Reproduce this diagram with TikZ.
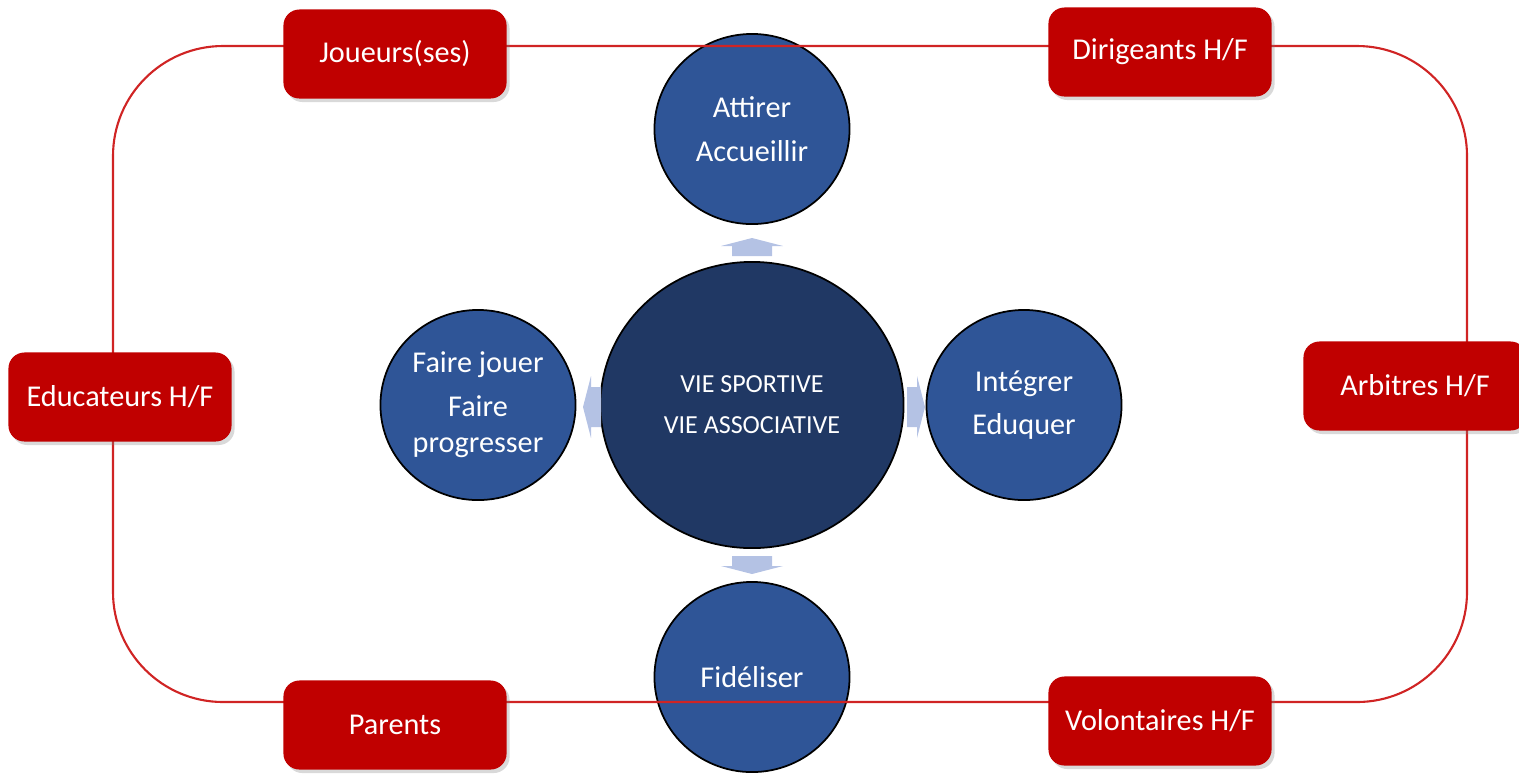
\documentclass[tikz,border=0pt]{standalone}
\usepackage{fontspec}
\setmainfont{Carlito}
\usetikzlibrary{shadows, shapes.geometric}

\definecolor{boxred}{HTML}{C00000}
\definecolor{framered}{HTML}{D02424}
\definecolor{stepblue}{HTML}{2F5597}
\definecolor{coreblue}{HTML}{203864}
\definecolor{flowblue}{HTML}{B4C2E4}

\begin{document}
\begin{tikzpicture}[x=0.01cm, y=-0.01cm,
	rolebox/.style={rectangle, rounded corners=0.16cm, fill=boxred, text=white, minimum width=2.23cm, minimum height=0.89cm, font=\fontsize{8.6}{10}\selectfont, drop shadow={opacity=0.3, shadow xshift=0.03cm, shadow yshift=-0.035cm}},
	stepnode/.style={ellipse, draw=black, line width=0.5pt, fill=stepblue, text=white, inner sep=0pt, minimum width=1.95cm, minimum height=1.9cm, align=center, font=\fontsize{8.6}{12.4}\selectfont},
	corenode/.style={ellipse, draw=black, line width=0.5pt, fill=coreblue, text=white, inner sep=0pt, minimum width=3.03cm, minimum height=2.86cm, align=center, font=\fontsize{7.4}{11.6}\selectfont},
	flow/.style={fill=flowblue}]
		\useasboundingbox (0,0) rectangle (1519,775);
		
		% circles
		\node[corenode]	(core) at (752,405)	{VIE SPORTIVE\\VIE ASSOCIATIVE};
		\node[stepnode]	(attirer) at (752,129)	{Attirer\\Accueillir};
		\node[stepnode]	(faire) at (478,405)	{Faire jouer\\Faire\\[-2pt]progresser};
		\node[stepnode]	(integrer) at (1024,405)	{Intégrer\\Eduquer};
		\node[stepnode]	(fideliser) at (752,677)	{Fidéliser};
		
		% block arrows between the circles
		\foreach \ax/\ay/\ang in {752/247/0, 752/565/180, 592/407/90, 916/407/-90}
			\fill[flow, shift={(\ax,\ay)}, rotate=\ang] (-20,9) -- (-20,-1) -- (-31,-1) -- (0,-9) -- (31,-1) -- (20,-1) -- (20,9) -- cycle;
		
		% frame
		\draw[framered, line width=0.6pt, rounded corners=1.1cm] (113,46) rectangle (1467,702);
		
		% roles
		\node[rolebox]	(joueurs) at (395,54)	{Joueurs(ses)};
		\node[rolebox]	(dirigeants) at (1160,52)	{Dirigeants H/F};
		\node[rolebox]	(educateurs) at (120,397)	{Educateurs H/F};
		\node[rolebox]	(arbitres) at (1415,386)	{Arbitres H/F};
		\node[rolebox]	(parents) at (395,725)	{Parents};
		\node[rolebox]	(volontaires) at (1160,721)	{Volontaires H/F};
		
		\end{tikzpicture}
\end{document}
